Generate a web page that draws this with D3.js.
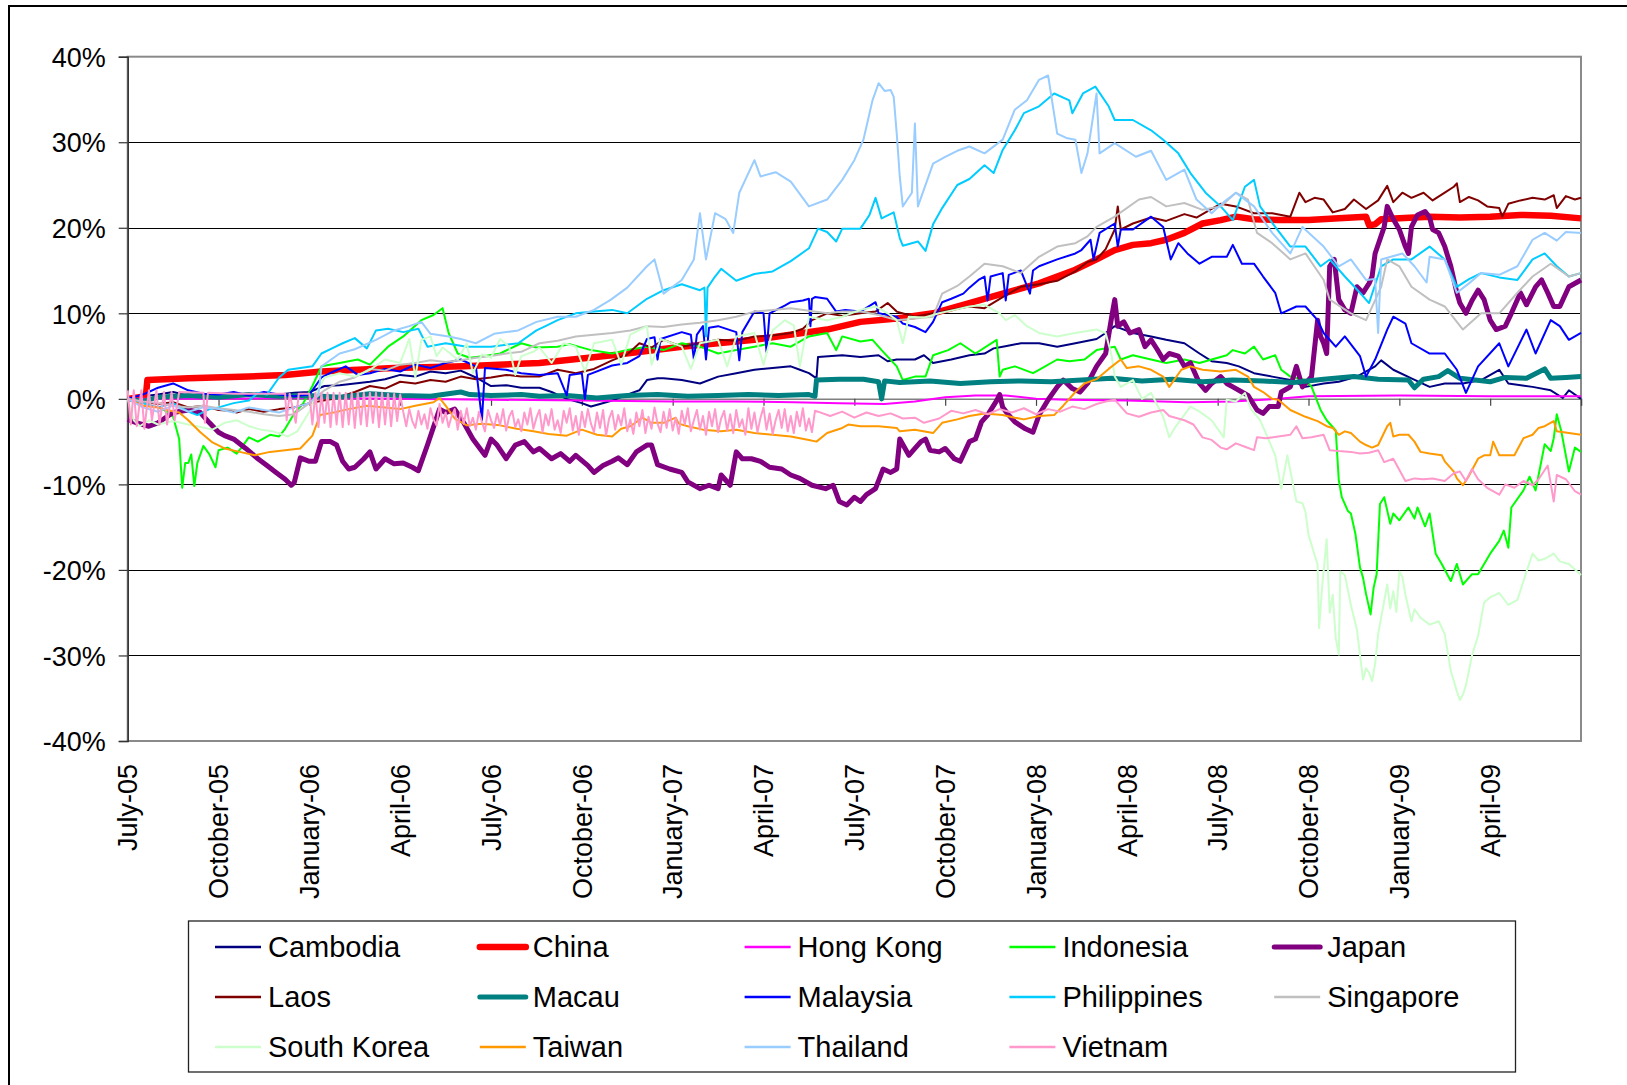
<!DOCTYPE html>
<html>
<head>
<meta charset="utf-8">
<script src="https://cdn.jsdelivr.net/npm/d3@7"></script>
<style>
body { margin: 0; background: #fff; }
text { font-family: "Liberation Sans", Arial, sans-serif; fill: #000; }
</style>
</head>
<body>
<svg id="chart" width="1627" height="1085"></svg>
<script>
/**
 * Exchange rate moves vs USD, July 2005 - June 2009
 * points are [months since July-05, % change]
 */

var monthLabels = ["July-05", "October-05", "January-06", "April-06", "July-06", "October-06",
	"January-07", "April-07", "July-07", "October-07", "January-08", "April-08",
	"July-08", "October-08", "January-09", "April-09"];
var yTicks = [-40, -30, -20, -10, 0, 10, 20, 30, 40];

var cambodia = [[0,0],[0.5,0.3],[1,0.5],[1.5,0.8],[2,0.4],[2.5,0.6],[3,0.3],[3.5,0.5],[4,0.6],[4.5,0.3],[5,0.5],[5.5,0.7],[6,0.8],[6.5,1.5],[7,1.6],[7.5,1.8],[8,2],[8.5,2.3],[9,2.8],[9.5,2.6],[10,3.2],[10.5,3],[11,3.3],[11.5,2.5],[12,1.5],[12.5,1.6],[13,1.3],[13.6,1.3],[14,0.8],[14.5,0],[15,-0.5],[15.3,-0.9],[15.6,-0.6],[16,-0.2],[16.5,0.5],[16.9,1],[17.15,2.2],[17.5,2.4],[17.7,2.4],[18.3,2.2],[18.9,1.8],[19.5,2.6],[20.1,3],[20.7,3.4],[21.3,3.6],[21.9,3.8],[22.2,3.4],[22.5,3],[22.75,2.4],[22.8,4.9],[23.6,5.1],[24.2,4.9],[24.8,5.1],[25.1,4.4],[25.4,4.6],[26,4.6],[26.3,5.1],[26.6,4.2],[27.2,4.6],[27.8,5.1],[28.3,5.3],[28.6,5.9],[28.9,6.1],[29.2,6.3],[29.5,6.5],[30.1,6.5],[30.7,6.1],[31.3,6.5],[32,7],[32.3,7.7],[32.6,8.5],[33.2,7.7],[33.8,7.3],[34.3,6.9],[34.9,6.5],[35.4,5.3],[35.8,4.4],[36.3,4.2],[36.7,3.8],[37.2,3],[37.8,2.6],[38.4,2.2],[38.9,1.4],[39.5,1.8],[40,2],[40.6,2.6],[41.2,3.8],[41.4,4.5],[41.8,3.4],[42.4,2.4],[43,1.4],[43.5,1.8],[44.1,1.8],[44.7,2.2],[45.3,3.4],[45.6,1.8],[46.4,1.4],[47,1],[47.4,0.1],[47.6,1],[48,0]];

var china = [[0,0],[0.6,0.3],[0.65,2.2],[2,2.4],[4,2.6],[5.2,2.8],[6.4,3.2],[8.8,3.6],[11.1,3.8],[13.6,4.2],[16,5.1],[18.3,6.1],[20.7,6.9],[23.1,8.1],[24.2,9],[25.4,9.4],[26.6,10],[27.8,11.2],[28.9,12.3],[30.1,13.5],[31.3,15.1],[32,16.3],[32.6,17.4],[33.2,18],[33.8,18.2],[34.3,18.6],[34.9,19.4],[35.5,20.5],[36.1,20.9],[36.6,21.3],[37.2,21],[38,20.9],[39,20.9],[40,21.1],[40.9,21.3],[41,20.3],[41.2,20.4],[41.4,21],[42,21.1],[43,21.3],[44,21.2],[45,21.3],[46,21.5],[47,21.4],[48,21.1]];

var hongKong = [[0,0],[3,0],[6,0.1],[9,0],[12,-0.1],[15,-0.2],[18,-0.3],[20,-0.3],[22,-0.4],[23.5,-0.5],[25,-0.6],[26,-0.3],[27,0.2],[28,0.4],[29,0.4],[30,0],[31,-0.1],[33,-0.2],[35,-0.4],[36.5,-0.3],[38,0],[39,0.3],[42,0.4],[45,0.3],[48,0.3]];

var indonesia = [[0,0],[0.5,-0.5],[1,-1],[1.3,-1.5],[1.5,-2.1],[1.7,-4.7],[1.8,-10.4],[1.9,-7.5],[2,-7.5],[2.1,-6.5],[2.2,-10.2],[2.3,-7.5],[2.5,-5.5],[2.7,-6.5],[2.9,-8],[3,-6],[3.3,-5.7],[3.6,-6.4],[3.8,-5.5],[4,-4.5],[4.3,-5],[4.7,-4.2],[5,-4.4],[5.2,-3.5],[5.5,-1.7],[5.8,-0.5],[6.1,1.5],[6.4,3.8],[7,4.2],[7.6,4.6],[8,4],[8.6,6.1],[9.1,7.3],[9.7,9.2],[10.1,9.8],[10.4,10.6],[10.6,7.7],[10.9,5.3],[11.3,4.8],[11.8,5],[12.3,5.3],[13,6.5],[13.5,6],[14.2,6.1],[14.6,6.4],[15.3,5.7],[16,5.3],[16.5,5.7],[17.15,6.1],[17.7,5.7],[18.3,6.5],[18.9,6.1],[19.5,5.3],[20.1,5.7],[20.7,6.1],[21.3,6.5],[21.9,6.1],[22.5,7.3],[23.1,7.7],[23.4,5.7],[23.6,7.3],[24.2,6.7],[24.6,6.9],[24.9,5.7],[25.4,3.8],[25.6,2.2],[26,2.6],[26.35,2.6],[26.6,5.1],[27.1,5.7],[27.5,6.5],[28,5.3],[28.7,6.9],[28.8,2.6],[28.9,3.4],[29.3,3.8],[29.9,3],[30.1,3.4],[30.7,4.6],[31.1,4.4],[31.6,4.6],[32,5.7],[32.6,6.1],[32.8,4.6],[33.2,5.1],[33.8,4.6],[34.3,4.2],[34.9,4.6],[35.4,4.2],[35.8,4.6],[36.3,5.1],[36.5,5.7],[36.9,5.3],[37.2,6.1],[37.5,4.6],[37.9,5.1],[38.1,3.4],[38.4,2.6],[38.9,2.2],[39.1,1.4],[39.4,-1.3],[39.6,-2.5],[39.9,-3.7],[40,-9.5],[40.1,-11.5],[40.3,-13.1],[40.4,-13.4],[40.55,-15.8],[40.7,-19.7],[40.8,-20.9],[40.9,-22.8],[41.05,-25.2],[41.15,-22.1],[41.25,-20.5],[41.36,-12.3],[41.5,-11.5],[41.7,-14.6],[41.8,-13.4],[42,-14.2],[42.3,-12.7],[42.5,-14],[42.6,-12.7],[42.85,-14.9],[43,-13.4],[43.2,-18.1],[43.4,-19.3],[43.7,-21.3],[43.9,-19.3],[44.1,-21.7],[44.4,-20.5],[44.6,-20.5],[44.8,-19.3],[45,-18.1],[45.3,-16.6],[45.45,-15.4],[45.6,-17.4],[45.7,-12.7],[46.1,-10.7],[46.3,-9.1],[46.5,-10.7],[46.8,-5.3],[47,-6.1],[47.1,-4.6],[47.2,-1.8],[47.35,-3.8],[47.6,-8.5],[47.8,-5.7],[48,-6.2]];

var japan = [[0,-2.4],[0.3,-2.8],[0.7,-3.2],[1,-2.8],[1.5,-1.6],[2,-1.3],[2.4,-1.6],[2.7,-2.8],[3,-3.9],[3.2,-4.3],[3.5,-4.7],[3.9,-5.8],[4.3,-7],[4.6,-7.8],[4.9,-8.6],[5.2,-9.4],[5.4,-10.1],[5.5,-9.8],[5.7,-6.9],[6,-7.3],[6.2,-7.3],[6.4,-5],[6.7,-5],[6.9,-5.4],[7.1,-7.3],[7.3,-8.2],[7.5,-8],[7.8,-7],[8,-6.2],[8.2,-8.2],[8.5,-7],[8.8,-7.6],[9.1,-7.5],[9.4,-8],[9.6,-8.4],[9.9,-5.4],[10.3,-1.2],[10.5,-1.6],[10.8,-1.2],[11.1,-2.8],[11.4,-4.7],[11.8,-6.6],[12,-4.7],[12.2,-5.4],[12.5,-7],[12.8,-5.4],[13.1,-5],[13.4,-6.2],[13.6,-5.8],[14,-7],[14.3,-6.4],[14.6,-7.3],[14.8,-6.6],[15.2,-7.8],[15.4,-8.6],[15.7,-7.8],[16,-7.3],[16.2,-6.9],[16.5,-7.7],[16.8,-6.2],[17.15,-5.4],[17.3,-5.4],[17.5,-7.7],[17.9,-8.2],[18.3,-8.6],[18.5,-9.7],[18.9,-10.5],[19.2,-10.1],[19.5,-10.5],[19.6,-8.9],[19.9,-10.1],[20.1,-6.2],[20.3,-7],[20.6,-7],[20.9,-7.3],[21.2,-8],[21.6,-8.2],[21.9,-8.9],[22.2,-9.3],[22.6,-10.1],[23.05,-10.5],[23.3,-10.1],[23.5,-12],[23.75,-12.4],[24,-11.5],[24.2,-12],[24.4,-11.2],[24.7,-10.5],[24.95,-8.2],[25.2,-8.6],[25.4,-8.2],[25.5,-4.7],[25.8,-6.6],[26,-5.8],[26.2,-5],[26.35,-4.7],[26.5,-6],[26.8,-6.2],[27,-5.8],[27.3,-7],[27.5,-7.3],[27.8,-5],[28,-4.7],[28.2,-2.7],[28.4,-1.9],[28.7,-0.2],[28.8,0.5],[28.9,-1],[29.1,-1.9],[29.3,-2.7],[29.65,-3.5],[29.9,-3.9],[30.1,-1.9],[30.4,-0.1],[30.7,1.4],[30.9,2.2],[31.2,1.2],[31.45,0.8],[31.7,1.8],[32,3.8],[32.3,5.3],[32.5,9.6],[32.6,11.6],[32.7,8.5],[32.9,9],[33.1,7.7],[33.4,8.1],[33.6,6.1],[33.8,6.9],[34,5.8],[34.2,4.6],[34.4,5.3],[34.7,5],[34.9,3.8],[35.1,4.2],[35.4,1.8],[35.6,1],[35.8,1.8],[36.1,2.6],[36.3,1.8],[36.5,1.4],[36.8,0.8],[37,0.4],[37.3,-1.3],[37.5,-1.7],[37.7,-0.9],[38,-0.9],[38.1,0.8],[38.4,1.4],[38.6,3.8],[38.8,1.4],[39.1,2.6],[39.3,9.2],[39.4,7.3],[39.5,6.5],[39.6,5.3],[39.7,15.5],[39.85,16.3],[40,11.6],[40.2,10.4],[40.4,10],[40.6,13.1],[40.8,12.4],[41,13.5],[41.1,14.3],[41.2,17],[41.5,20.1],[41.6,22.5],[41.8,21],[42,19.8],[42.2,17.8],[42.3,17],[42.4,20.1],[42.6,21.5],[42.85,21.9],[43,21.2],[43.1,19.8],[43.3,19.4],[43.5,17.8],[43.7,15.5],[43.9,12.4],[44,11.2],[44.2,10],[44.4,11.5],[44.6,12.7],[44.8,11.6],[45,9.2],[45.2,8.1],[45.5,8.5],[45.7,10],[46,12.4],[46.2,11],[46.5,13.1],[46.7,13.9],[46.9,12.4],[47.1,10.8],[47.3,10.8],[47.6,13.1],[48,13.9]];

var laos = [[0,0],[0.5,-0.3],[1,-0.6],[1.5,-0.4],[2,-1],[2.5,-0.8],[3,-1.3],[3.4,-1.4],[3.6,-1.6],[4,-1.2],[4.5,-1.5],[5,-1.2],[5.5,-1],[6,-0.5],[6.8,0],[7.5,0.8],[8,1.5],[8.5,1.2],[9,2],[9.5,1.8],[10,2.2],[10.5,2],[11,2.6],[11.5,2.3],[12,2.5],[12.5,2.8],[13,2.6],[13.6,2.6],[14.2,3.4],[14.8,3],[15.4,3.5],[16,4.5],[16.5,5.2],[16.9,6.5],[17.3,6],[17.7,6.9],[18.3,6.1],[18.9,6.5],[19.5,6.9],[20.1,6.8],[20.7,7.3],[21.3,7.4],[21.9,7.7],[22.3,8.2],[22.6,9.2],[23.1,10],[23.6,9.7],[24.2,10],[24.7,10.2],[25.1,11.2],[25.4,10.2],[26,9.6],[26.6,10],[27.2,10.4],[27.8,10.8],[28.3,10.6],[28.9,11.9],[29.5,13.1],[30.1,13.4],[30.7,13.8],[31.3,14.9],[31.7,16],[32,16.3],[32.3,17.5],[32.6,19.8],[32.7,22.5],[32.8,19.8],[33.2,20.5],[33.8,21.2],[34.3,20.8],[34.9,21.6],[35.3,21.2],[35.8,22.2],[36.1,22.8],[36.6,22.5],[37.2,21.7],[37.8,21.7],[38.4,21.3],[38.7,24.1],[38.9,23],[39.2,23.5],[39.5,23.3],[39.8,21.8],[40.2,22.2],[40.5,23.3],[40.9,22.2],[41.3,23.2],[41.6,24.9],[41.8,23],[42.1,24.1],[42.4,23.5],[42.8,24.1],[43.1,23.2],[43.5,24.1],[43.8,24.8],[43.9,25.2],[44,23],[44.3,23.6],[44.6,23.2],[44.9,22.5],[45.3,22.3],[45.4,21.3],[45.6,22.8],[46,23.2],[46.4,23.5],[46.8,23.3],[47.1,23.8],[47.2,22.3],[47.5,23.7],[47.8,23.3],[48,23.5]];

var macau = [[0,0],[0.5,-0.3],[1,0.2],[2,0.4],[3,0.2],[4,0.5],[5,0.3],[6,0.4],[7,0.2],[8,0.6],[9,0.4],[10,0.3],[11,0.8],[11.3,0.5],[12,0.4],[13,0.5],[13.6,0.3],[14.5,0.4],[15.5,0.1],[16.5,0.4],[17.5,0.5],[18.5,0.3],[19.5,0.4],[20.5,0.5],[21.5,0.4],[22.5,0.5],[22.7,0.3],[22.75,2.2],[23.5,2.3],[24.3,2.3],[24.8,2],[24.9,0],[25,2.1],[25.5,1.9],[26.5,2.1],[27.5,1.8],[28.5,2],[29.5,2.1],[30.5,2],[31.5,2.2],[32.5,2.4],[33.5,2.1],[34.5,2.3],[35.5,2],[36.5,2.2],[37.5,2.1],[38.5,1.9],[39.5,2.3],[40.5,2.6],[41.3,2.3],[42.3,2.2],[42.5,1.3],[42.8,2.3],[43.3,2.6],[43.6,3.3],[44,2.4],[45,2],[45.5,2.5],[46.2,2.4],[46.8,3.5],[47,2.4],[47.5,2.5],[48,2.6]];

var malaysia = [[0,0],[0.5,0.5],[1,1.3],[1.5,1.8],[2,1],[2.5,0.6],[3,0.5],[3.5,0.8],[4,0.4],[4.5,0.8],[5,0.5],[5.5,0.3],[6,0.5],[6.4,2.5],[6.8,3.2],[7.2,3.8],[7.6,2.8],[8,3],[8.5,3.5],[9,3.2],[9.5,4],[10,3.6],[10.5,4.2],[11,4.6],[11.5,3.8],[11.7,-2.5],[11.8,3.6],[12.5,3.4],[13,3],[13.6,2.8],[14.2,3],[14.5,0.4],[14.6,2.8],[15,3],[15.1,0],[15.2,2.8],[16,3.9],[16.5,4.2],[16.9,5],[17.15,7],[17.4,7.2],[17.5,4.6],[17.6,7],[18.3,7.8],[18.6,7.5],[18.7,4.6],[18.8,7.5],[19,8.5],[19.1,4.6],[19.2,8.3],[19.5,8.5],[20.1,7.8],[20.2,4.5],[20.3,7.8],[20.7,10.2],[21,10],[21.1,5.5],[21.2,10],[21.7,10.9],[21.9,11.3],[22.3,11.5],[22.5,11.7],[22.55,8.5],[22.6,11.7],[22.7,11.9],[23.1,11.7],[23.4,10.2],[23.7,10.4],[24.2,10.2],[24.7,11.3],[24.8,10],[25.4,9.6],[25.6,8.8],[26,8.4],[26.35,7.8],[26.6,9],[26.9,11.3],[27.2,11.7],[27.6,12.3],[27.8,13],[28.1,13.9],[28.3,14.3],[28.4,11.5],[28.5,14.3],[28.9,14.7],[29,11.5],[29.1,14.5],[29.5,15],[29.8,12.3],[29.9,15],[30.1,15.5],[30.7,16.3],[31.3,17],[31.5,17.4],[31.8,18.6],[31.9,16.3],[32.1,19.4],[32.6,20.5],[32.7,17.8],[32.8,19.8],[33.2,19.8],[33.8,21.3],[34.2,20.1],[34.45,16.3],[34.7,18.2],[35,17],[35.4,15.8],[35.8,16.6],[36.3,16.6],[36.5,18],[36.8,15.8],[37.2,15.8],[37.5,14.3],[37.9,12.4],[38.1,10],[38.6,10.8],[38.9,10.8],[39.3,9.2],[39.5,7.7],[39.9,6.1],[40.2,7.3],[40.7,5],[40.9,2.6],[41.2,4.6],[41.6,8.1],[41.8,9.6],[42.2,8.8],[42.4,6.5],[43,5.3],[43.5,5.3],[43.9,3.4],[44.2,0.7],[44.6,3.8],[45.3,6.5],[45.6,3.8],[46.2,8.1],[46.5,5.3],[47,9.2],[47.3,8.5],[47.6,6.9],[48,7.7]];

var philippines = [[0,0],[0.5,-0.5],[1,-1],[1.5,-0.5],[2,-1.5],[2.3,-1.9],[2.7,-1.2],[3,-1],[3.5,-0.5],[4,-0.2],[4.3,0.7],[4.6,0.5],[5,2.5],[5.3,3.4],[5.7,3.6],[6.1,3.8],[6.4,5.3],[6.8,6],[7.1,6.5],[7.5,7.1],[7.9,5.9],[8.2,8],[8.6,8.2],[9.1,7.8],[9.6,8.2],[9.9,6.1],[10.5,6.5],[11.2,6.1],[12,6.1],[12.9,6.5],[13.5,8],[13.8,8.5],[14.2,9.2],[14.8,10],[15.4,10.2],[16,10.4],[16.5,10],[17.15,11.7],[17.7,12.7],[18.3,13.4],[18.9,12.7],[19.05,13],[19.1,7.3],[19.15,13],[19.4,14.3],[19.6,15.2],[20.1,13.8],[20.7,14.6],[21.3,14.9],[21.9,16.1],[22.5,17.6],[22.8,19.9],[23.1,19.5],[23.4,18.4],[23.6,19.9],[24.2,19.9],[24.5,21.5],[24.7,23.5],[24.9,21.1],[25.3,21.8],[25.5,18.8],[25.6,17.9],[26.1,18.4],[26.35,17.3],[26.6,20.4],[26.9,22.3],[27.4,25],[27.8,25.7],[28.3,27.3],[28.6,26.4],[28.9,29.1],[29.3,31.4],[29.6,33.4],[30.1,34.2],[30.6,35.7],[31.1,34.9],[31.2,33.4],[31.55,35.7],[31.96,36.5],[32.4,34.2],[32.6,32.6],[33.2,32.6],[33.8,31.4],[34.2,30.3],[34.7,28.7],[35.1,26.4],[35.6,24.1],[36.1,22.5],[36.5,20.9],[36.9,24.8],[37.2,25.6],[37.4,22.5],[37.9,20.1],[38.4,17.8],[38.9,17.8],[39.4,15.5],[39.7,16.3],[40.2,14.3],[40.7,12.4],[41,11.2],[41.4,15.5],[41.8,16.3],[42.4,16.3],[43,17.8],[43.5,16.3],[43.9,13.1],[44.3,14],[44.7,14.7],[45.3,14.2],[45.9,13.9],[46.4,16.3],[46.8,17],[47.2,15.5],[47.6,14.3],[48,14.7]];

var singapore = [[0,0],[0.5,-0.3],[1,-0.5],[1.5,-0.8],[2,-1],[2.5,-0.8],[3,-1.1],[3.5,-1.3],[4,-1.5],[4.5,-1.8],[5,-2],[5.5,-1.8],[6,-0.5],[6.5,1],[7,2],[7.5,2.5],[8,3.5],[8.5,3.3],[9,4],[9.5,4.2],[10,4.5],[10.5,4.3],[11,4.5],[11.5,4.8],[12,5],[12.5,5.3],[13,5.5],[13.6,6.5],[14.2,6.8],[14.8,7.3],[15.4,7.5],[16,7.7],[16.6,8],[17.15,8.5],[17.7,8.4],[18.3,8.7],[18.9,8.9],[19.5,9.2],[20.1,9.6],[20.7,10.2],[21.3,10.4],[21.9,10.6],[22.5,10.3],[23.1,10],[23.6,10.2],[24.2,10.2],[24.8,9.8],[25.4,9.2],[26,9.4],[26.6,9.6],[26.9,12.3],[27.4,13.2],[27.8,14.3],[28.3,15.8],[28.9,15.5],[29.5,14.7],[30.1,16.6],[30.7,17.8],[31.3,18.2],[31.7,19],[32,20.1],[32.6,21.3],[33.4,23.3],[33.8,23.6],[34.3,22.5],[34.9,22.9],[35.5,22.1],[36.1,22.5],[36.6,24.1],[37,23.3],[37.3,19.4],[37.8,18.2],[38.4,16.3],[38.9,17],[39.5,13.9],[39.7,11.6],[40.4,10],[40.9,9.2],[41.4,13.1],[41.6,16.3],[42,15.5],[42.4,13.1],[43,11.6],[43.5,10.8],[44.1,8.1],[44.7,10],[45.3,10],[45.9,12.4],[46.4,14.3],[47,15.8],[47.6,14.3],[48,14.7]];

var southKorea = [[0,0],[0.2,-2.5],[0.4,-3.2],[0.7,-2.5],[1,-3],[1.5,-2.6],[2,-3],[2.4,-3.3],[2.8,-3.6],[3.2,-2.8],[3.6,-2.5],[4,-3.2],[4.4,-3.6],[4.8,-3.8],[5.3,-4.4],[5.6,-3.8],[6,-1.5],[6.2,0.4],[6.5,2.5],[7,3],[7.5,2.6],[8,3.4],[8.5,4.6],[9,4.2],[9.3,7],[9.5,2.5],[9.7,6.9],[10,7.3],[10.2,5],[10.4,6],[10.9,4.6],[11.2,6.5],[11.4,3],[11.7,5.2],[12,4.8],[12.3,7],[12.6,6.1],[12.8,2.8],[13,5],[13.4,5.5],[13.6,6],[14,4.2],[14.4,6.5],[14.8,6.1],[15.1,3.2],[15.4,6.5],[16,6.9],[16.3,4],[16.6,7.5],[17.15,8.5],[17.3,4],[17.6,7],[18.3,6.1],[18.6,3.5],[18.9,6.5],[19.5,6.9],[19.8,3.8],[20.1,7.3],[20.7,7.7],[21,4],[21.3,8],[21.7,9.2],[22,8.6],[22.2,3.8],[22.5,9.6],[23.1,9.2],[23.6,9.6],[24.2,10.4],[24.7,10.8],[25.1,10],[25.4,9.2],[25.6,6.5],[25.8,9.6],[26.3,9.5],[26.8,10],[27.3,10.4],[27.8,10.8],[28.3,11],[28.8,10],[29,9.2],[29.3,9.8],[29.7,8.5],[30.1,7.7],[30.7,7.3],[31.3,7.7],[32,8.1],[32.3,7.7],[32.5,5],[32.6,2.6],[32.8,1.4],[33.2,2.2],[33.5,0],[33.8,0.7],[34.2,-2.1],[34.4,-4.5],[34.6,-3.3],[35.1,-0.9],[35.4,-1.5],[35.8,-2.5],[36.2,-4.5],[36.3,-0.1],[36.6,-0.3],[36.9,0.7],[37.1,-1.2],[37.4,-2.5],[37.6,-4.1],[37.9,-6.6],[38.1,-10.5],[38.3,-6.6],[38.6,-12],[38.8,-12.2],[38.9,-13.2],[39,-15.9],[39.3,-19.4],[39.35,-26.8],[39.45,-22],[39.6,-16.4],[39.7,-25],[39.8,-22.9],[39.9,-28],[40,-29.9],[40.05,-20.2],[40.2,-20.6],[40.4,-24.1],[40.6,-27],[40.8,-32.8],[40.9,-31.5],[41,-32],[41.1,-33],[41.2,-31],[41.3,-27.5],[41.6,-21.7],[41.7,-24.5],[41.8,-22.5],[41.9,-24.9],[42,-20.2],[42.1,-20.8],[42.2,-22.9],[42.4,-26],[42.5,-24.6],[42.7,-25.6],[43,-26.4],[43.3,-26],[43.5,-27.5],[43.7,-31.8],[43.9,-34.2],[44,-35.2],[44.1,-34.6],[44.2,-33.5],[44.4,-30],[44.6,-27.7],[44.8,-23.8],[45,-23.2],[45.3,-22.7],[45.6,-24.1],[45.9,-23.5],[46.2,-20.2],[46.4,-18.1],[46.6,-18.9],[46.8,-18.7],[47.1,-18.1],[47.3,-19],[47.6,-19.3],[48,-20.6]];

var taiwan = [[0,0],[0.5,-0.8],[1,-1],[1.3,-1.3],[1.7,-1.6],[2,-2.5],[2.4,-3.9],[2.8,-5.1],[3.2,-5.8],[3.7,-6.2],[4.2,-6.6],[4.7,-6.2],[5.2,-6],[5.7,-5.8],[6.1,-4.3],[6.35,-1.9],[6.8,-1.6],[7.3,-1.2],[7.9,-0.8],[8.5,-1],[9,-1.2],[9.5,-0.8],[10.1,-0.4],[10.3,0.1],[10.5,-0.8],[10.8,-2.3],[11.2,-3.1],[11.7,-2.9],[12.3,-3.1],[12.85,-3.5],[13.4,-3.8],[13.9,-4.1],[14.5,-4.3],[15,-3.6],[15.5,-4.2],[16,-4.4],[16.3,-3.5],[16.6,-3.2],[17,-2.2],[17.3,-2.8],[17.7,-2.8],[18.1,-2.2],[18.2,-2.9],[18.5,-3.2],[19,-3.6],[19.6,-3.8],[20.1,-3.6],[20.7,-4],[21.3,-4.2],[21.9,-4.4],[22.5,-4.8],[22.75,-5],[23.1,-4],[23.6,-3.4],[23.8,-3],[24.2,-3.2],[24.8,-3.2],[25.4,-3.4],[25.5,-3.8],[26,-3.6],[26.6,-4],[26.9,-2.8],[27.4,-2.4],[27.8,-2],[28.3,-1.7],[28.9,-1.9],[29.3,-2.2],[29.6,-2.4],[30.1,-2],[30.6,-1.9],[30.9,-0.8],[31.3,0.8],[31.6,1.8],[32,2.3],[32.4,3.5],[32.8,4.6],[33,3.6],[33.4,3.8],[33.8,3.4],[34.2,2.6],[34.4,1.4],[34.8,3.4],[35.1,3.8],[35.5,3.4],[36.1,3.2],[36.6,3.4],[37,2.6],[37.2,1.4],[37.5,0.8],[37.8,0],[38,-0.1],[38.4,-1.3],[38.9,-2.1],[39.3,-2.6],[39.6,-3.2],[39.8,-3.4],[40,-4.2],[40.2,-3.8],[40.4,-4],[40.7,-5],[40.9,-5.4],[41.1,-5.7],[41.3,-5.4],[41.6,-3.2],[41.7,-2.8],[41.8,-4.4],[42,-4.2],[42.3,-4.2],[42.5,-5],[42.7,-6.2],[43,-6.4],[43.4,-6.6],[43.5,-7.3],[43.8,-8.5],[43.9,-9.3],[44.1,-10.1],[44.3,-9],[44.6,-7],[44.8,-6.6],[45,-6.6],[45.1,-5],[45.3,-6.6],[45.8,-6.6],[46.1,-4.6],[46.4,-4.2],[46.6,-3.4],[46.8,-3.2],[47.1,-2.6],[47.2,-3.8],[47.6,-4],[48,-4.2]];

var thailand = [[0,0],[0.5,-1],[1,-1.5],[1.5,-0.8],[2,-1.5],[2.5,-1],[3,-1.2],[3.5,-1.6],[4,-1],[4.5,-1.3],[5,-1.6],[5.5,-1],[6,-0.5],[6.3,0.5],[6.4,3.8],[7,5.3],[7.5,5.8],[8.2,6.9],[8.8,8],[9.3,8.5],[9.7,9],[10,7.6],[10.6,7.3],[11,7],[11.5,6.5],[12.1,7.6],[12.9,8],[13.5,9],[14.2,9.6],[14.8,9.6],[15.4,10.4],[15.96,11.6],[16.5,13],[17.15,15.5],[17.4,16.3],[17.7,12.3],[18.3,13.9],[18.7,16.3],[18.9,21.7],[19.1,16.3],[19.4,21.7],[19.75,21],[20,19.4],[20.2,24.1],[20.7,27.9],[20.9,26],[21.4,26.5],[21.9,25.4],[22.5,22.5],[23.1,23.3],[23.6,25.6],[24,27.9],[24.3,30.3],[24.6,34.9],[24.8,36.9],[25,36],[25.2,36.1],[25.3,35.3],[25.4,31],[25.5,26],[25.6,22.5],[25.9,24.1],[26,32.2],[26.1,22.5],[26.6,27.5],[27,28.3],[27.4,29],[27.8,29.5],[28.3,28.7],[28.9,30.3],[29.3,33.8],[29.7,34.9],[30.1,37.3],[30.4,37.8],[30.7,31],[31,30.5],[31.3,30.3],[31.5,26.4],[31.7,28.7],[32,35.7],[32.1,28.7],[32.6,29.9],[33.3,28.3],[33.8,29],[34.3,25.6],[34.9,26.8],[35.3,23.3],[35.8,21.7],[36.2,23],[36.6,24.1],[37.2,22.5],[37.8,19.4],[38.4,17],[38.8,20.1],[39.5,17.8],[40,15.5],[40.4,16.3],[40.9,13.9],[41.2,14],[41.3,7.7],[41.4,16.3],[42.1,17],[42.5,15.5],[42.9,13.6],[43,16.6],[43.5,16.3],[43.9,12.4],[44.3,13.5],[44.7,14.7],[45.3,14.5],[45.9,15.5],[46.4,18.6],[46.8,19.4],[47.2,18.5],[47.5,19.5],[48,19.4]];

var vietnam = [[0,1],[0.1,-3],[0.2,1],[0.3,-3.2],[0.45,1],[0.55,-3.5],[0.7,1],[0.8,-2.5],[0.95,1],[1.05,-3],[1.2,0.8],[1.3,-3],[1.45,0.8],[1.55,-2.5],[1.7,0.8],[2.5,0.7],[2.55,-2.8],[2.65,0.7],[3.5,0.6],[4.5,0.6],[5.2,0.6],[5.25,-2.5],[5.35,0.6],[5.55,-2.8],[5.65,0.6],[6,0.6],[6.1,-3],[6.2,0.7],[6.3,-3.3],[6.4,0.7],[6.5,-2.8],[6.6,0.7],[6.7,-3.3],[6.8,0.7],[6.9,-3],[7,0.7],[7.1,-3.3],[7.2,0.7],[7.3,-3],[7.4,0.7],[7.5,-3.4],[7.6,0.7],[7.7,-3],[7.8,0.7],[7.9,-3.2],[8,0.7],[8.1,-2.8],[8.2,0.7],[8.3,-3.3],[8.4,0.7],[8.5,-3],[8.6,0.6],[8.7,-3.2],[8.8,0.6],[8.9,-2.6],[9,0.5],
	[9.1,-1.5],[9.2,-3.2],[9.3,-1.2],[9.4,-2.6],[9.5,-3.4],[9.6,-1.4],[9.7,-3],[9.8,-1.8],[9.9,-3.5],[10,-1.1],[10.1,-2.4],[10.2,-3.1],[10.3,-0.6],[10.4,-2.8],[10.5,-1.6],[10.6,-3.3],[10.7,-2],[10.8,-1.2],[10.9,-3.6],[11,-1.4],[11.1,-2.9],[11.2,-1.1],[11.3,-3.2],[11.4,-2.2],[11.5,-3.6],[11.6,-1.5],[11.7,-2.7],[11.8,-3.8],[11.9,-1.3],[12,-2.5],[12.1,-3.4],[12.2,-1.7],[12.3,-3.1],[12.4,-1.2],[12.5,-3.7],[12.6,-2.1],[12.7,-1.4],[12.8,-3.3],[12.9,-2.4],[13,-3.8],[13.1,-1.6],[13.2,-3],[13.3,-1.1],[13.4,-3.5],[13.5,-2.2],[13.6,-1.3],[13.7,-3.9],[13.8,-1.8],[13.9,-3.1],[14,-1.2],[14.1,-3.6],[14.2,-2.5],[14.3,-4],[14.4,-1.4],[14.5,-2.8],[14.6,-1.1],[14.7,-3.7],[14.8,-2],[14.9,-4.2],[15,-1.5],[15.1,-3.3],[15.2,-1.2],[15.3,-2.9],[15.4,-3.9],[15.5,-1.6],[15.6,-3.4],[15.7,-1.3],[15.8,-4.3],[15.9,-2.3],[16,-1.4],[16.1,-3.6],[16.2,-1.9],[16.3,-3.1],[16.4,-1.1],[16.5,-3.8],[16.6,-2.4],[16.7,-4.1],[16.8,-1.6],[16.9,-3.2],[17,-1.3],[17.1,-4],[17.2,-2.1],[17.3,-3.5],[17.4,-1],[17.5,-2.9],[17.6,-3.9],[17.7,-1.5],[17.8,-3.4],[17.9,-1.2],[18,-3.7],[18.1,-2.2],[18.2,-4.1],[18.3,-1.4],[18.4,-3],[18.5,-1.1],[18.6,-3.8],[18.7,-2.5],[18.8,-1.3],[18.9,-3.6],[19,-2],[19.1,-4.2],[19.2,-1.5],[19.3,-3.2],[19.4,-1.2],[19.5,-3.9],[19.6,-2.3],[19.7,-1.4],[19.8,-3.7],[19.9,-1.8],[20,-4],[20.1,-1.3],[20.2,-3.3],[20.3,-2.4],[20.4,-4.2],[20.5,-1.1],[20.6,-3.5],[20.7,-1.6],[20.8,-3.9],[20.9,-2.2],[21,-1],[21.1,-3.6],[21.2,-1.7],[21.3,-4.1],[21.4,-2.5],[21.5,-1.3],[21.6,-3.4],[21.7,-1.2],[21.8,-3.8],[21.9,-2],[22,-4],[22.1,-1.5],[22.2,-3.2],[22.3,-1.1],[22.4,-3.7],[22.5,-2.3],[22.6,-3.9],[22.7,-1.4],[22.8,-1.5],
	[23.2,-2],[23.6,-1.5],[24,-2.2],[24.4,-1.6],[24.8,-2],[25.2,-1.7],[25.6,-2.3],[26,-2.2],[26.3,-2.8],[26.8,-2.3],[27.2,-1.4],[27.6,-1.7],[28,-1.3],[28.4,-1.8],[28.8,-1.2],[29.2,-1.6],[29.6,-1.1],[30,-1.8],[30.4,-1.2],[30.8,-1.5],[31.2,-0.9],[31.6,-1.2],[32,-0.6],[32.3,-0.3],[32.6,-0.1],[32.8,-0.9],[33,-1.7],[33.4,-2.1],[33.8,-1.6],[34.2,-1.3],[34.4,-2],[34.9,-2.5],[35.2,-3],[35.5,-4.5],[35.8,-4.8],[36.1,-5.7],[36.3,-5.9],[36.6,-5.2],[36.9,-5.6],[37.2,-6],[37.3,-4.5],[37.6,-4.6],[38,-4.4],[38.4,-4.2],[38.6,-3.2],[38.8,-4.6],[39.1,-4.5],[39.5,-4.2],[39.7,-6],[40,-6.1],[40.4,-6.2],[40.7,-6.4],[41,-6.3],[41.3,-6],[41.5,-7.4],[41.8,-7],[42.2,-9.6],[42.5,-9.3],[42.8,-9.4],[43.1,-9.3],[43.5,-9.6],[43.8,-8.7],[44,-8.5],[44.2,-9.6],[44.4,-8.2],[44.6,-9.4],[44.9,-10.4],[45.3,-11.2],[45.5,-10],[45.8,-10.4],[46.1,-9.6],[46.4,-10.1],[46.6,-9.4],[46.9,-7.8],[47.1,-12],[47.2,-8.9],[47.5,-9.4],[47.8,-10.8],[48,-11.2]];

var countries = ["Cambodia", "China", "Hong Kong", "Indonesia", "Japan", "Laos", "Macau",
	"Malaysia", "Philippines", "Singapore", "South Korea", "Taiwan", "Thailand", "Vietnam"];
var seriesData = [cambodia, china, hongKong, indonesia, japan, laos, macau,
	malaysia, philippines, singapore, southKorea, taiwan, thailand, vietnam];
var colors = ["#000080", "#ff0000", "#ff00ff", "#00ff00", "#800080", "#800000", "#008080",
	"#0000ff", "#00ccff", "#c0c0c0", "#ccffcc", "#ff9900", "#99ccff", "#ff99cc"];
var widths = [2, 6.5, 2, 2, 5, 2, 5, 2, 2, 2, 2, 2, 2, 2];


var svg = d3.select("#chart");

var plotLeft = 127.7, plotRight = 1581, plotTop = 56.7, plotBottom = 741;

var x = d3.scaleLinear().domain([0, 48]).range([plotLeft, plotRight]);
var y = d3.scaleLinear().domain([-40, 40]).range([plotBottom, plotTop]);

// outer chart frame, runs past the picture on right and bottom
svg.append("rect")
	.attr("x", 9)
	.attr("y", 6)
	.attr("width", 1700)
	.attr("height", 1200)
	.style("fill", "none")
	.style("stroke", "#000")
	.style("stroke-width", 2);

// gridlines
svg.append("g")
	.attr("class", "grid")
	.attr("transform", "translate(" + plotLeft + ",0)")
	.call(d3.axisLeft(y).tickValues([-30, -20, -10, 10, 20, 30])
		.tickSize(-(plotRight - plotLeft)).tickFormat(""))
	.call(function(g) { g.select(".domain").remove(); })
	.selectAll("line")
	.style("stroke", "#000")
	.style("stroke-width", 1)
	.style("shape-rendering", "crispEdges");

// plot area border
svg.append("rect")
	.attr("x", plotLeft)
	.attr("y", plotTop)
	.attr("width", plotRight - plotLeft)
	.attr("height", plotBottom - plotTop)
	.style("fill", "none")
	.style("stroke", "#8a8a8a")
	.style("stroke-width", 2);

// y axis
var yAxis = svg.append("g")
	.attr("transform", "translate(" + plotLeft + ",0)")
	.call(d3.axisLeft(y).tickValues(yTicks).tickSize(9).tickPadding(13)
		.tickFormat(function(d) { return d + "%"; }));
yAxis.select(".domain").style("stroke", "#333").style("stroke-width", 1.5);
yAxis.selectAll(".tick line").style("stroke", "#333").style("stroke-width", 1.2);
yAxis.selectAll("text")
	.style("font-family", "'Liberation Sans', Arial, sans-serif")
	.style("font-size", "27px")
	.attr("dy", "0.36em");

// x axis crosses at 0%
var xAxis = svg.append("g")
	.attr("transform", "translate(0," + y(0) + ")")
	.call(d3.axisBottom(x).tickValues(d3.range(0, 49, 3)).tickSize(7).tickFormat(""));
xAxis.select(".domain").style("stroke", "#808080").style("stroke-width", 1.5);
xAxis.selectAll(".tick line").style("stroke", "#444").style("stroke-width", 1.2);

// month labels under the plot, turned upright
svg.append("g")
	.selectAll("text")
	.data(monthLabels)
	.enter()
	.append("text")
	.attr("transform", function(d, i) { return "translate(" + x(i * 3) + ",764) rotate(-90)"; })
	.attr("dy", "0.36em")
	.style("text-anchor", "end")
	.style("font-size", "27px")
	.text(function(d) { return d; });

// series
var line = d3.line()
	.x(function(d) { return x(d[0]); })
	.y(function(d) { return y(d[1]); });

svg.append("g")
	.selectAll("path")
	.data(seriesData)
	.enter()
	.append("path")
	.attr("d", line)
	.style("fill", "none")
	.style("stroke", function(d, i) { return colors[i]; })
	.style("stroke-width", function(d, i) { return widths[i]; })
	.style("stroke-linejoin", "round");

// legend
var legendX = 188.5, legendY = 921;
svg.append("rect")
	.attr("x", legendX)
	.attr("y", legendY)
	.attr("width", 1327)
	.attr("height", 151)
	.style("fill", "none")
	.style("stroke", "#222")
	.style("stroke-width", 1.3);

var colStep = 264.8, rowStep = 50;

var legendItem = svg.append("g")
	.selectAll("g")
	.data(countries)
	.enter()
	.append("g")
	.attr("transform", function(d, i) {
		return "translate(" + (215 + (i % 5) * colStep) + "," + (947 + Math.floor(i / 5) * rowStep) + ")";
	});

legendItem.append("line")
	.attr("x1", 0)
	.attr("x2", 46)
	.style("stroke", function(d, i) { return colors[i]; })
	.style("stroke-width", function(d, i) { return widths[i] > 3 ? widths[i] : 2.5; })
	.style("stroke-linecap", function(d, i) { return widths[i] > 3 ? "round" : "butt"; });

legendItem.append("text")
	.attr("x", 53)
	.attr("dy", "0.36em")
	.style("font-size", "29px")
	.text(function(d) { return d; });
</script>
</body>
</html>
